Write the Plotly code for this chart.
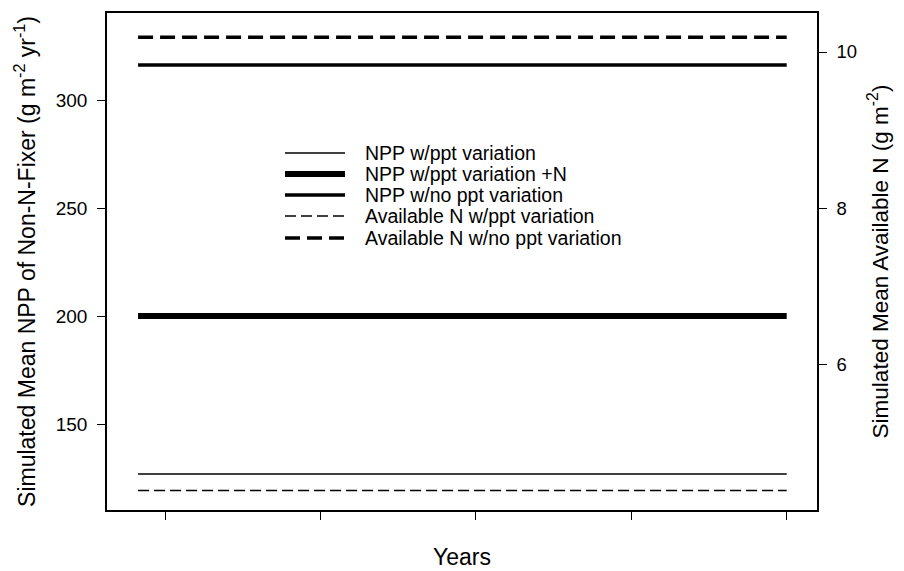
import plotly.graph_objects as go

# Data (constant simulated means over the simulation years)
years = [16.5, 100]
npp_ppt_var = [126.9, 126.9]
npp_ppt_var_n = [200.0, 200.0]
npp_no_ppt_var = [316.2, 316.2]
availn_ppt_var = [4.38, 4.38]
availn_no_ppt_var = [10.19, 10.19]
x_ticks = [20, 40, 60, 80, 100]
y_left_ticks = [150, 200, 250, 300]
y_right_ticks = [6, 8, 10]

names = ["NPP w/ppt variation", "NPP w/ppt variation +N", "NPP w/no ppt variation",
         "Available N w/ppt variation", "Available N w/no ppt variation"]
styles = [
    dict(width=1.5, dash="solid"),
    dict(width=6, dash="solid"),
    dict(width=3.5, dash="solid"),
    dict(width=1.5, dash="11px,5px"),
    dict(width=3.5, dash="15px,7px"),
]
series = [(npp_ppt_var, "y"), (npp_ppt_var_n, "y"), (npp_no_ppt_var, "y"),
          (availn_ppt_var, "y2"), (availn_no_ppt_var, "y2")]

FONT = "Arial, Liberation Sans, sans-serif"
fig = go.Figure()
for (vals, ax), nm, st in zip(series, names, styles):
    fig.add_trace(go.Scatter(x=years, y=vals, yaxis=ax, mode="lines", name=nm,
                             line=dict(color="black", **st), showlegend=False))

# Manual legend (line samples + text)
leg_x0, leg_x1, leg_tx = 285, 345, 365
leg_rows = [153, 174, 195, 216, 238]
W, H = 904, 571
ml, mr, mt, mb = 107, 87, 13, 61
pw, ph = W - ml - mr, H - mt - mb
def px(x):
    return (x - ml) / pw
def py(y):
    return 1 - (y - mt) / ph
for nm, st, yy in zip(names, styles, leg_rows):
    fig.add_shape(type="line", xref="paper", yref="paper",
                  x0=px(leg_x0), x1=px(leg_x1), y0=py(yy), y1=py(yy),
                  line=dict(color="black", width=st["width"], dash=st["dash"]))
    fig.add_annotation(xref="paper", yref="paper", x=px(leg_tx), y=py(yy),
                       text=nm, showarrow=False, xanchor="left", yanchor="middle",
                       xshift=-2, font=dict(family=FONT, size=19.5, color="black"))

fig.update_layout(
    width=W, height=H,
    margin=dict(l=ml, r=mr, t=mt, b=mb),
    plot_bgcolor="white", paper_bgcolor="white",
    font=dict(family=FONT, size=18, color="black"),
    xaxis=dict(range=[12.5, 103.9], tickvals=x_ticks, showticklabels=False,
               ticks="outside", ticklen=8, tickwidth=1, tickcolor="black",
               showline=True, linecolor="black", linewidth=1.5, mirror=True,
               showgrid=False, zeroline=False, automargin=False,
               title=dict(text="Years", font=dict(size=23), standoff=30)),
    yaxis=dict(range=[110.2, 340.3], tickvals=y_left_ticks,
               ticks="outside", ticklen=8, tickwidth=1, tickcolor="black",
               showline=True, linecolor="black", linewidth=1.5,
               showgrid=False, zeroline=False, ticklabelstandoff=6, automargin=False,
               tickfont=dict(size=19),
               title=dict(text="Simulated Mean NPP of Non-N-Fixer (g m<sup>-2</sup> yr<sup>-1</sup>)",
                          font=dict(size=23), standoff=14)),
    yaxis2=dict(range=[4.13, 10.5], tickvals=y_right_ticks, overlaying="y", side="right",
                ticks="outside", ticklen=8, tickwidth=1, tickcolor="black",
                showline=True, linecolor="black", linewidth=1.5,
                showgrid=False, zeroline=False, ticklabelstandoff=6, automargin=False,
                tickfont=dict(size=18.5),
                title=dict(text="Simulated Mean Available N (g m<sup>-2</sup>)",
                           font=dict(size=22.5), standoff=16)),
)

fig.write_html("out.html")
